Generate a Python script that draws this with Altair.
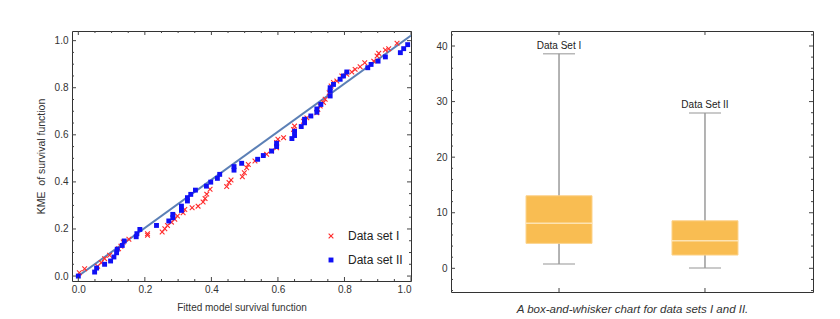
import altair as alt
import pandas as pd

FONT = "Liberation Sans Narrow, Liberation Sans, Arial, sans-serif"

# ---------------- Left panel data: KME vs fitted survival ----------------
set1_x = [0.003, 0.019, 0.058, 0.069, 0.079, 0.094, 0.121, 0.128, 0.135, 0.152,
          0.208, 0.208, 0.252, 0.260, 0.268, 0.280, 0.290, 0.298, 0.315, 0.320,
          0.342, 0.360, 0.375, 0.381, 0.386, 0.396, 0.446, 0.453, 0.459, 0.493,
          0.499, 0.506, 0.511, 0.531, 0.566, 0.581, 0.596, 0.596, 0.600, 0.617,
          0.647, 0.650, 0.677, 0.687, 0.717, 0.720, 0.727, 0.737, 0.742, 0.754,
          0.760, 0.767, 0.777, 0.792, 0.807, 0.822, 0.832, 0.847, 0.861, 0.888,
          0.898, 0.903, 0.923, 0.933, 0.958]
set1_y = [0.014, 0.031, 0.042, 0.057, 0.074, 0.088, 0.116, 0.127, 0.145, 0.156,
          0.173, 0.180, 0.187, 0.201, 0.215, 0.229, 0.241, 0.255, 0.269, 0.283,
          0.290, 0.297, 0.315, 0.329, 0.348, 0.369, 0.380, 0.397, 0.408, 0.422,
          0.439, 0.460, 0.474, 0.489, 0.517, 0.531, 0.545, 0.567, 0.581, 0.588,
          0.623, 0.637, 0.658, 0.672, 0.694, 0.708, 0.722, 0.737, 0.751, 0.779,
          0.807, 0.822, 0.829, 0.850, 0.857, 0.867, 0.878, 0.889, 0.906, 0.913,
          0.935, 0.946, 0.960, 0.966, 0.989]

set2_x = [0.000, 0.049, 0.055, 0.079, 0.097, 0.107, 0.115, 0.117, 0.132, 0.138,
          0.174, 0.176, 0.185, 0.235, 0.272, 0.284, 0.284, 0.310, 0.310, 0.328,
          0.328, 0.338, 0.352, 0.385, 0.398, 0.418, 0.425, 0.468, 0.468, 0.491,
          0.539, 0.556, 0.581, 0.596, 0.596, 0.642, 0.650, 0.650, 0.670, 0.680,
          0.680, 0.699, 0.717, 0.717, 0.729, 0.757, 0.757, 0.757, 0.767, 0.787,
          0.797, 0.807, 0.870, 0.880, 0.901, 0.923, 0.968, 0.978, 0.990]
set2_y = [0.000, 0.017, 0.034, 0.050, 0.064, 0.081, 0.099, 0.114, 0.130, 0.149,
          0.167, 0.180, 0.198, 0.215, 0.234, 0.248, 0.262, 0.279, 0.297, 0.319,
          0.333, 0.347, 0.365, 0.382, 0.399, 0.415, 0.432, 0.450, 0.465, 0.479,
          0.496, 0.512, 0.531, 0.550, 0.564, 0.584, 0.597, 0.615, 0.635, 0.651,
          0.666, 0.680, 0.696, 0.710, 0.729, 0.765, 0.786, 0.800, 0.814, 0.836,
          0.850, 0.867, 0.885, 0.899, 0.913, 0.931, 0.949, 0.966, 0.983]

series_names = ["Data set I", "Data set II"]
line_x = [0.0, 1.0]
line_y = [0.0, 1.022]

left_major = [0.0, 0.2, 0.4, 0.6, 0.8, 1.0]
left_minor = [0.05, 0.1, 0.15, 0.25, 0.3, 0.35, 0.45, 0.5, 0.55,
              0.65, 0.7, 0.75, 0.85, 0.9, 0.95]

# ---------------- Right panel data: box-and-whisker ----------------
box_labels = ["Data Set I", "Data Set II"]
box_min = [0.77, 0.05]
box_q1 = [4.49, 2.39]
box_median = [8.09, 4.96]
box_q3 = [13.05, 8.55]
box_max = [38.6, 27.96]
right_major = [0, 10, 20, 30, 40]
right_minor = [-4, -2, 2, 4, 6, 8, 12, 14, 16, 18, 22, 24, 26, 28,
               32, 34, 36, 38, 42]
caption = "A box-and-whisker chart for data sets I and II."

TICK = "#444444"
W1, H1 = 339, 250
W2, H2 = 362, 261

# ---------------- Left panel ----------------
xs = alt.Scale(domain=[-0.019, 1.0], nice=False, zero=False)
ys = alt.Scale(domain=[-0.021, 1.041], nice=False, zero=False)

scatter_df = pd.DataFrame({
    "x": set1_x + set2_x,
    "y": set1_y + set2_y,
    "series": [series_names[0]] * len(set1_x) + [series_names[1]] * len(set2_x),
})
line_df = pd.DataFrame({"x": line_x, "y": line_y})

XPATH = ("M-1,-0.72L-0.72,-1L0,-0.28L0.72,-1L1,-0.72L0.28,0L1,0.72L0.72,1"
         "L0,0.28L-0.72,1L-1,0.72L-0.28,0Z")

x_axis = alt.Axis(values=left_major, format=".1f", title="Fitted model survival function",
                  labelPadding=3, minExtent=14, maxExtent=14, titlePadding=7,
                  titleFontSize=10, labelFontSize=10)
y_axis = alt.Axis(values=left_major, format=".1f", title="KME\u00a0\u00a0of survival function",
                  labelPadding=4, minExtent=20, maxExtent=20, titlePadding=6,
                  titleFontSize=10.5, labelFontSize=10)

line = alt.Chart(line_df).mark_line(color="#5C80B6", strokeWidth=2, clip=True).encode(
    x=alt.X("x:Q", scale=xs, axis=x_axis),
    y=alt.Y("y:Q", scale=ys, axis=y_axis),
)

legend = alt.Legend(title=None, orient="none", legendX=253, legendY=199,
                    labelFontSize=12, labelFont=FONT, labelColor="#222222",
                    rowPadding=12, labelOffset=11, symbolStrokeWidth=0,
                    padding=0, symbolSize=36)

points = alt.Chart(scatter_df).mark_point(filled=True, opacity=1, strokeWidth=0).encode(
    x=alt.X("x:Q", scale=xs),
    y=alt.Y("y:Q", scale=ys),
    color=alt.Color("series:N", scale=alt.Scale(domain=series_names,
                    range=["#FF2A2A", "#1010F5"]), legend=legend),
    shape=alt.Shape("series:N", scale=alt.Scale(domain=series_names,
                    range=[XPATH, "square"]), legend=legend),
    size=alt.Size("series:N", scale=alt.Scale(domain=series_names, range=[30, 24]),
                  legend=None),
)

lmaj_x = pd.DataFrame({"x": left_major})
lmin_x = pd.DataFrame({"x": left_minor})
lmaj_y = pd.DataFrame({"y": left_major})
lmin_y = pd.DataFrame({"y": left_minor})


def xticks(df, length, h, scale):
    b = alt.Chart(df).mark_rule(color=TICK, strokeWidth=1).encode(
        x=alt.X("x:Q", scale=scale), y=alt.value(h), y2=alt.value(h - length))
    t = alt.Chart(df).mark_rule(color=TICK, strokeWidth=1).encode(
        x=alt.X("x:Q", scale=scale), y=alt.value(0), y2=alt.value(length))
    return [b, t]


def yticks(df, length, w, scale, field="y:Q"):
    l = alt.Chart(df).mark_rule(color=TICK, strokeWidth=1).encode(
        y=alt.Y(field, scale=scale), x=alt.value(0), x2=alt.value(length))
    r = alt.Chart(df).mark_rule(color=TICK, strokeWidth=1).encode(
        y=alt.Y(field, scale=scale), x=alt.value(w), x2=alt.value(w - length))
    return [l, r]


left = alt.layer(
    line, points,
    *xticks(lmaj_x, 4, H1, xs), *xticks(lmin_x, 2, H1, xs),
    *yticks(lmaj_y, 4, W1, ys), *yticks(lmin_y, 2, W1, ys),
).properties(width=W1, height=H1)

# ---------------- Right panel ----------------
box_df = pd.DataFrame({"label": box_labels, "min": box_min, "q1": box_q1,
                       "median": box_median, "q3": box_q3, "max": box_max})
bx = alt.Scale(domain=box_labels, paddingInner=0.548, paddingOuter=0.514)
by = alt.Scale(domain=[-4.26, 42.7], nice=False, zero=False)

bx_axis = alt.Axis(labels=False, title=caption, titleFontStyle="italic",
                   titleFontSize=11.5, minExtent=0, maxExtent=0, titlePadding=11)
by_axis = alt.Axis(values=right_major, title=None, labelPadding=4,
                   minExtent=14, maxExtent=14, labelFontSize=10)

GRAY = "#9A9A9A"
whisker = alt.Chart(box_df).mark_rule(color=GRAY, strokeWidth=1.5).encode(
    x=alt.X("label:N", scale=bx, axis=bx_axis),
    y=alt.Y("min:Q", scale=by, axis=by_axis),
    y2="max:Q",
)
cap_lo = alt.Chart(box_df).mark_tick(color=GRAY, orient="horizontal", size=32,
                                     thickness=1.5).encode(
    x=alt.X("label:N", scale=bx), y=alt.Y("min:Q", scale=by))
cap_hi = alt.Chart(box_df).mark_tick(color=GRAY, orient="horizontal", size=32,
                                     thickness=1.5).encode(
    x=alt.X("label:N", scale=bx), y=alt.Y("max:Q", scale=by))
box = alt.Chart(box_df).mark_bar(color="#F9BD52", stroke="#FCD28A",
                                 strokeWidth=1).encode(
    x=alt.X("label:N", scale=bx), y=alt.Y("q1:Q", scale=by), y2="q3:Q")
med = alt.Chart(box_df).mark_tick(color="#FFF4DC", orient="horizontal", size=66,
                                  thickness=1.5).encode(
    x=alt.X("label:N", scale=bx), y=alt.Y("median:Q", scale=by))
lbl = alt.Chart(box_df).mark_text(fontSize=10, dy=-8, color="#222222",
                                  font=FONT).encode(
    x=alt.X("label:N", scale=bx), y=alt.Y("max:Q", scale=by), text="label:N")

rmaj_y = pd.DataFrame({"min": right_major})
rmin_y = pd.DataFrame({"min": right_minor})
cat_df = pd.DataFrame({"label": box_labels})
cat_b = alt.Chart(cat_df).mark_rule(color=TICK, strokeWidth=1).encode(
    x=alt.X("label:N", scale=bx), y=alt.value(H2), y2=alt.value(H2 - 4))
cat_t = alt.Chart(cat_df).mark_rule(color=TICK, strokeWidth=1).encode(
    x=alt.X("label:N", scale=bx), y=alt.value(0), y2=alt.value(4))

right = alt.layer(
    whisker, cap_lo, cap_hi, box, med, lbl,
    *yticks(rmaj_y, 4, W2, by, "min:Q"), *yticks(rmin_y, 2, W2, by, "min:Q"),
    cat_b, cat_t,
).properties(width=W2, height=H2)

chart = alt.hconcat(left, right, spacing=23).properties(
    padding={"left": 27, "top": 22, "right": 5, "bottom": 0}
).configure_view(
    stroke="#333333", strokeWidth=1
).configure_axis(
    grid=False, domain=False, ticks=False,
    labelFont=FONT, titleFont=FONT, labelColor="#333333", titleColor="#333333",
    titleFontWeight="normal",
)

chart.save("out.html", embed_options={"renderer": "svg", "actions": False})
